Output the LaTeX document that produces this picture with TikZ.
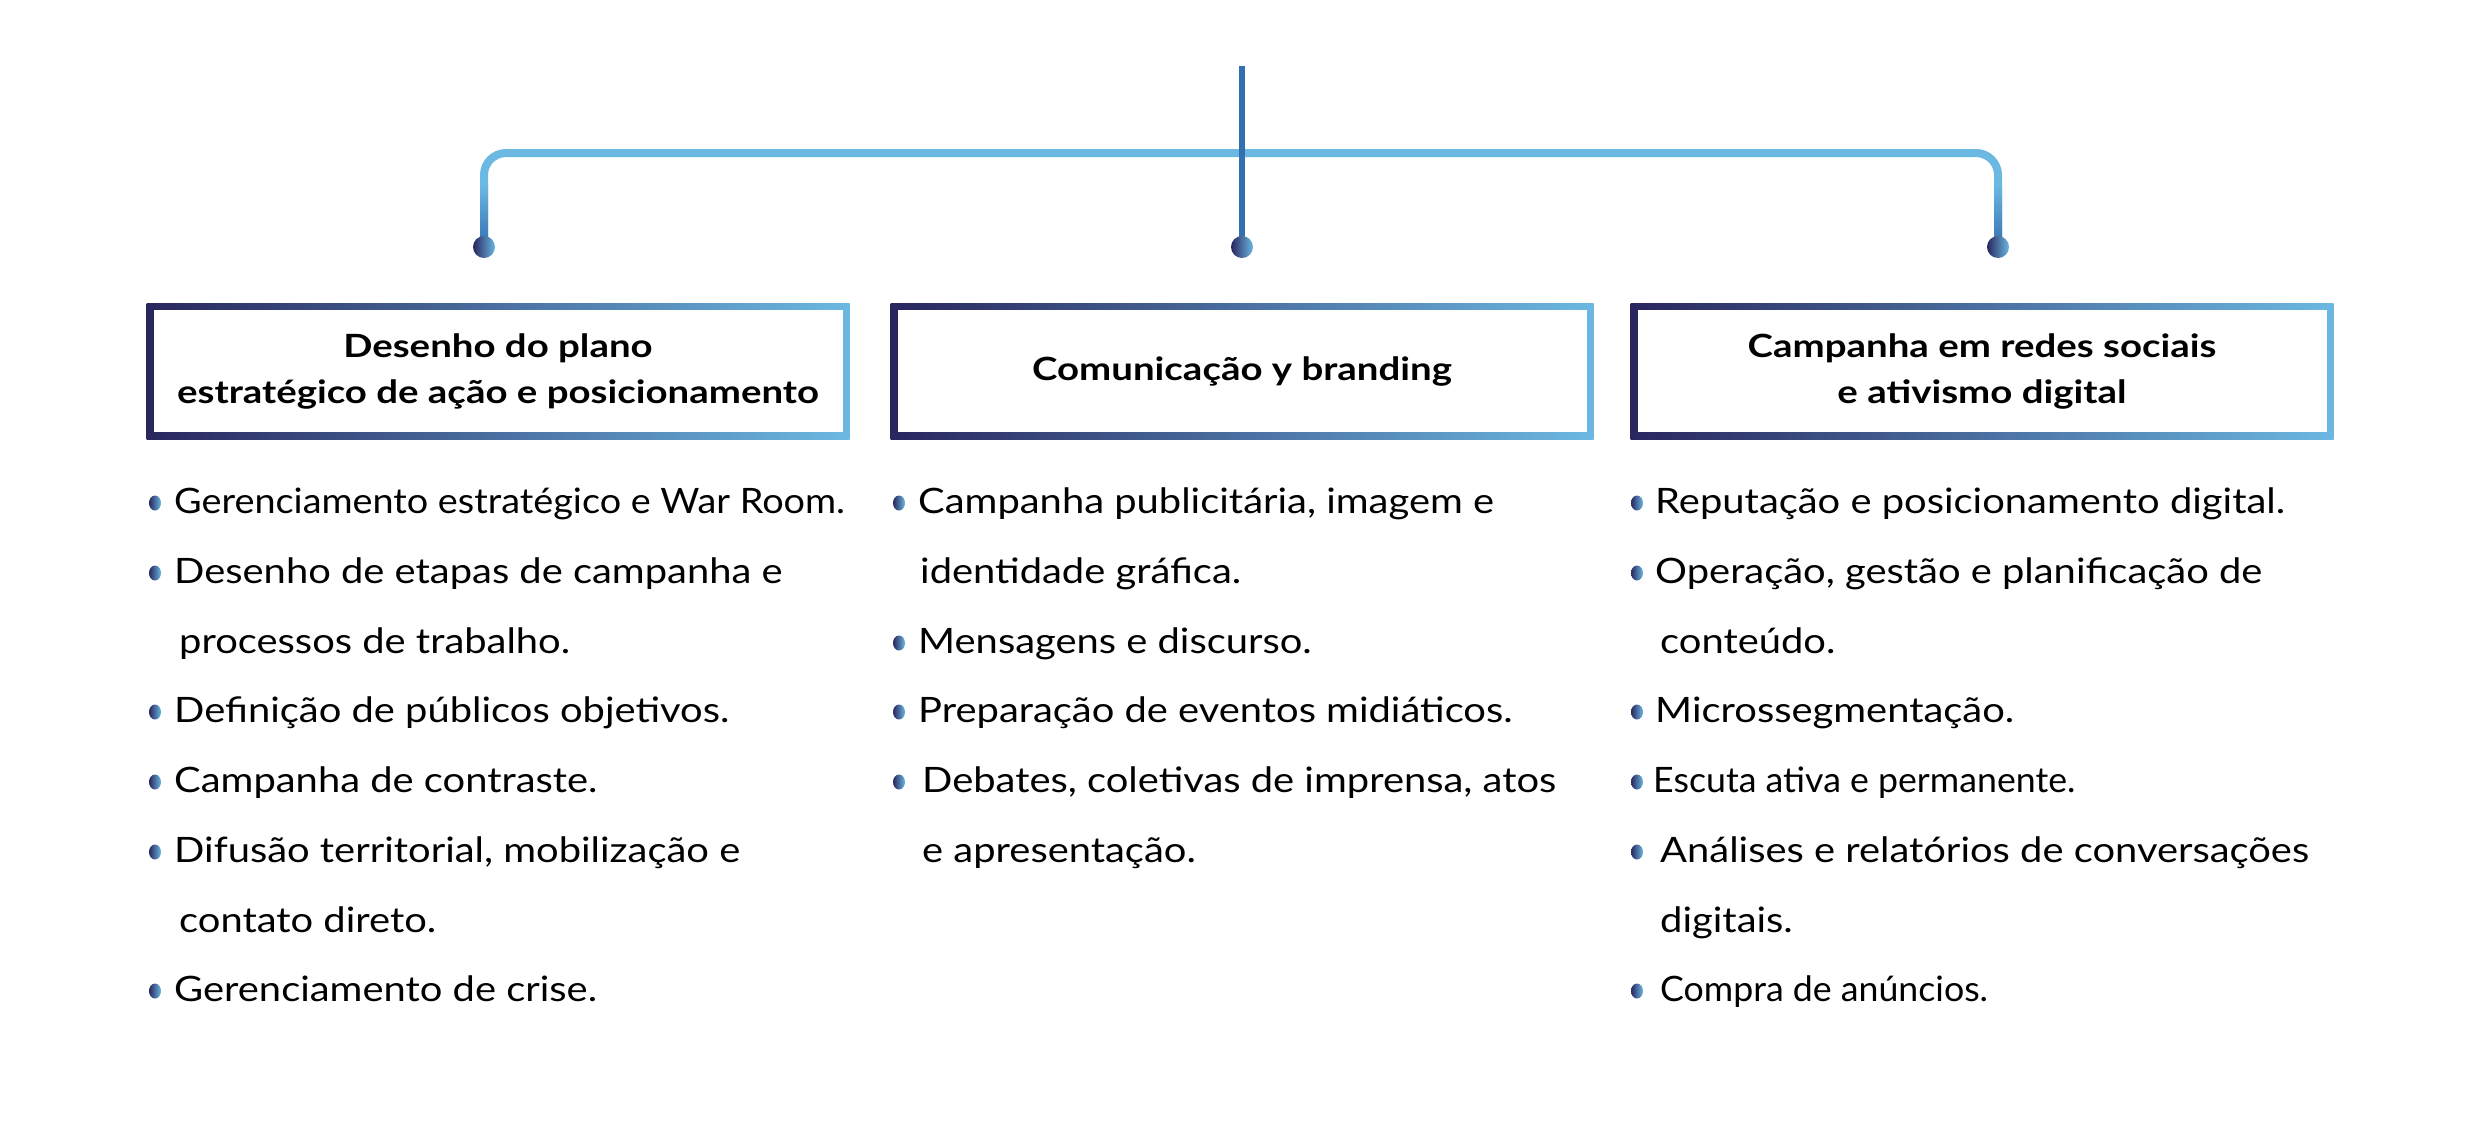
\documentclass[tikz,border=0pt]{standalone}
\usepackage{fontspec}
\setmainfont{Lato}[FakeStretch=1.14]
\newfontfamily\headfont[FakeStretch=1.2]{Lato}
\newfontfamily\tightfont[FakeStretch=1.08]{Lato}
\newfontfamily\narrowfont[FakeStretch=1.02]{Lato}
\tikzset{node distance=2cm, auto}
\usetikzlibrary{positioning}

\definecolor{navy}{RGB}{41,38,94}
\definecolor{midb}{RGB}{52,112,176}
\definecolor{skyb}{RGB}{107,184,226}

\begin{document}
\begin{tikzpicture}[x=1pt,y=-1pt]
\tikzset{
  hbox/.style={minimum width=703pt, minimum height=136pt, inner sep=0pt, outer sep=0pt,
    left color=navy, middle color=midb, right color=skyb, align=center,
    font=\fontsize{32}{46}\headfont\bfseries,
    path picture={\fill[white] ([shift={(7pt,-7pt)}]path picture bounding box.north west)
      rectangle ([shift={(-7pt,7pt)}]path picture bounding box.south east);}},
  item/.style={anchor=base west, inner sep=0pt, font=\fontsize{35}{42}\selectfont},
  dot/.style={left color=navy, right color=skyb}
}
\path[use as bounding box, fill=white] (0,0) rectangle (2481,1141);

\coordinate (top) at (1242,66);
\coordinate (bar) at (1242,153);
\coordinate (L) at (484,247);
\coordinate (M) at (1242,247);
\coordinate (R) at (1998,247);

% bracket
\draw[skyb, line width=8pt, rounded corners=22pt] (L) |- (bar) -| (R);
\shade[top color=skyb, bottom color=midb] ([shift={(-4pt,62pt)}]L) rectangle ([xshift=4pt]L);
\shade[top color=skyb, bottom color=midb] ([shift={(-4pt,62pt)}]R) rectangle ([xshift=4pt]R);
\draw[midb, line width=6pt] (top) -- (M);

\shade[dot] (L) circle [radius=11];
\shade[dot] (M) circle [radius=11];
\shade[dot] (R) circle [radius=11];

% headers
\node[hbox] (plano) at (498,371) {Desenho do plano\\estratégico de ação e posicionamento};
\node[hbox] (comunic) at (1242,371) {Comunicação y branding};
\node[hbox] (redes) at (1982,371) {Campanha em redes sociais\\e ativismo digital};

% column 1
\node[item, font=\fontsize{35}{42}\tightfont] (p1) at (174,513) {Gerenciamento estratégico e War Room.};
\node[item] (p2) at (174,583) {Desenho de etapas de campanha e};
\node[item] (p3) at (179,653) {processos de trabalho.};
\node[item] (p4) at (174,722) {Definição de públicos objetivos.};
\node[item] (p5) at (174,792) {Campanha de contraste.};
\node[item] (p6) at (174,862) {Difusão territorial, mobilização e};
\node[item] (p7) at (179,932) {contato direto.};
\node[item] (p8) at (174,1001) {Gerenciamento de crise.};

% column 2
\node[item] (c1) at (918,513) {Campanha publicitária, imagem e};
\node[item] (c2) at (920,583) {identidade gráfica.};
\node[item] (c3) at (918,653) {Mensagens e discurso.};
\node[item] (c4) at (918,722) {Preparação de eventos midiáticos.};
\node[item] (c5) at (922,792) {Debates, coletivas de imprensa, atos};
\node[item] (c6) at (922,862) {e apresentação.};

% column 3
\node[item] (r1) at (1655,513) {Reputação e posicionamento digital.};
\node[item] (r2) at (1655,583) {Operação, gestão e planificação de};
\node[item] (r3) at (1660,653) {conteúdo.};
\node[item] (r4) at (1655,722) {Microssegmentação.};
\node[item, font=\fontsize{35}{42}\narrowfont] (r5) at (1653,792) {Escuta ativa e permanente.};
\node[item] (r6) at (1660,862) {Análises e relatórios de conversações};
\node[item] (r7) at (1660,932) {digitais.};
\node[item, font=\fontsize{35}{42}\narrowfont] (r8) at (1660,1001) {Compra de anúncios.};

% bullets
\shade[dot] ([shift={(-19pt,10pt)}]p1.base west) ellipse [x radius=6, y radius=7.5];
\shade[dot] ([shift={(-19pt,10pt)}]p2.base west) ellipse [x radius=6, y radius=7.5];
\shade[dot] ([shift={(-19pt,10pt)}]p4.base west) ellipse [x radius=6, y radius=7.5];
\shade[dot] ([shift={(-19pt,10pt)}]p5.base west) ellipse [x radius=6, y radius=7.5];
\shade[dot] ([shift={(-19pt,10pt)}]p6.base west) ellipse [x radius=6, y radius=7.5];
\shade[dot] ([shift={(-19pt,10pt)}]p8.base west) ellipse [x radius=6, y radius=7.5];
\shade[dot] ([shift={(-19pt,10pt)}]c1.base west) ellipse [x radius=6, y radius=7.5];
\shade[dot] ([shift={(-19pt,10pt)}]c3.base west) ellipse [x radius=6, y radius=7.5];
\shade[dot] ([shift={(-19pt,10pt)}]c4.base west) ellipse [x radius=6, y radius=7.5];
\shade[dot] ([shift={(-23pt,10pt)}]c5.base west) ellipse [x radius=6, y radius=7.5];
\shade[dot] ([shift={(-18pt,10pt)}]r1.base west) ellipse [x radius=6, y radius=7.5];
\shade[dot] ([shift={(-18pt,10pt)}]r2.base west) ellipse [x radius=6, y radius=7.5];
\shade[dot] ([shift={(-18pt,10pt)}]r4.base west) ellipse [x radius=6, y radius=7.5];
\shade[dot] ([shift={(-16pt,10pt)}]r5.base west) ellipse [x radius=6, y radius=7.5];
\shade[dot] ([shift={(-23pt,10pt)}]r6.base west) ellipse [x radius=6, y radius=7.5];
\shade[dot] ([shift={(-23pt,10pt)}]r8.base west) ellipse [x radius=6, y radius=7.5];
\end{tikzpicture}
\end{document}
